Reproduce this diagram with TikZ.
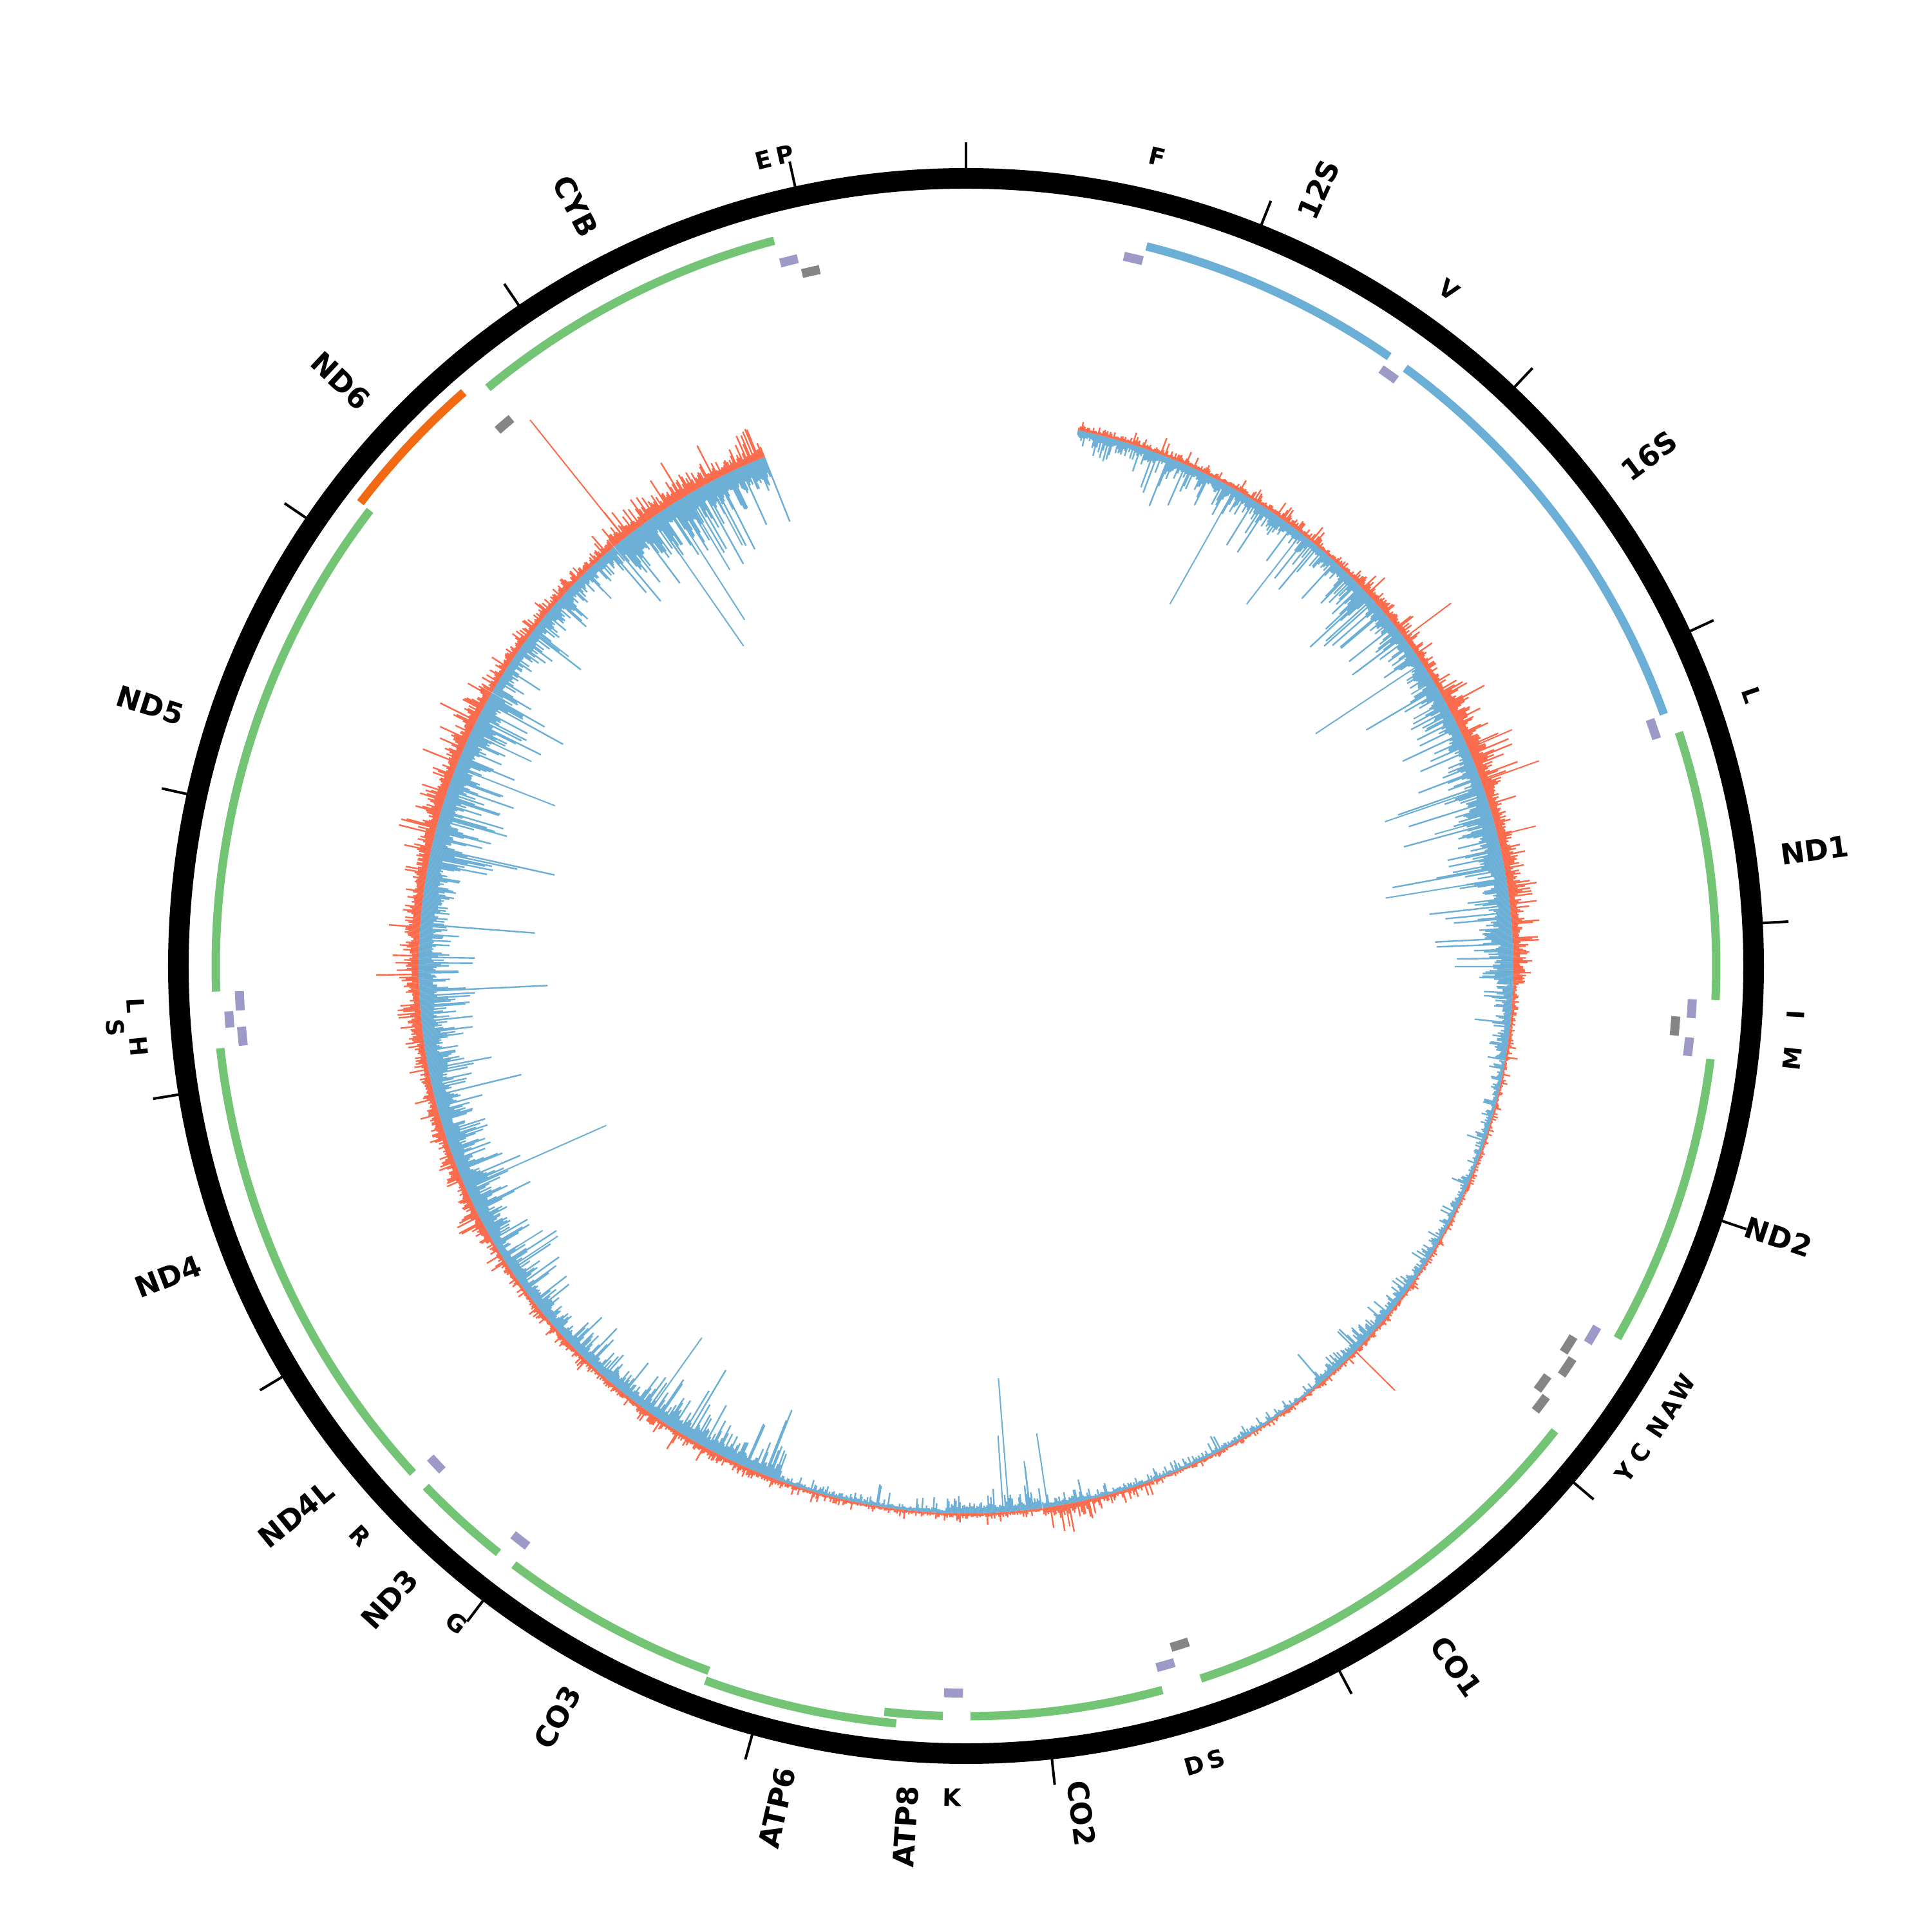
\documentclass[tikz,border=0pt]{standalone}
\usepackage{fontspec}
\setmainfont{DejaVu Sans}
\definecolor{covred}{HTML}{FB6A4A}
\definecolor{covblue}{HTML}{6BAED6}
\definecolor{cdsgreen}{HTML}{74C476}
\definecolor{rrnablue}{HTML}{6BAED6}
\definecolor{lorange}{HTML}{F16913}
\definecolor{trnapurple}{HTML}{9E9AC8}
\definecolor{trnagrey}{HTML}{858585}
\tikzset{
  gene/.style={line width=0.13cm, cdsgreen},
  rrna/.style={line width=0.13cm, rrnablue},
  lgene/.style={line width=0.13cm, lorange},
  trnah/.style={line width=0.14cm, trnapurple},
  trnal/.style={line width=0.14cm, trnagrey},
  ticmark/.style={line width=0.04cm, black},
  ringstyle/.style={line width=0.32cm, black},
  genelab/.style={font=\fontsize{12.8}{15}\selectfont\bfseries, inner sep=0pt},
  trnalab/.style={font=\fontsize{10.6}{13}\selectfont\bfseries, inner sep=0pt},
  covr/.style={covred, line width=0.024cm},
  covb/.style={covblue, line width=0.024cm},
  spiker/.style={covred, line width=0.02cm},
  spikeb/.style={covblue, line width=0.02cm},
}
% arc: style, radius, theta1, theta2 (degrees clockwise from top)
\newcommand{\featarc}[4]{\draw[#1] ({90-(#3)}:#2) arc[start angle={90-(#3)}, end angle={90-(#4)}, radius=#2];}
% gene labels (radial)
\newcommand{\genelabR}[3]{\node[genelab, anchor=west, rotate={90-(#2)}] (#1) at ({90-(#2)}:12.76) {#3};}
\newcommand{\genelabL}[3]{\node[genelab, anchor=east, rotate={270-(#2)}] (#1) at ({90-(#2)}:12.76) {#3};}
% tRNA labels (tangential)
\newcommand{\trlabT}[4]{\node[trnalab, rotate={-(#2)}] (#1) at ({90-(#2)}:#3) {#4};}
\newcommand{\trlabB}[4]{\node[trnalab, rotate={180-(#2)}] (#1) at ({90-(#2)}:#3) {#4};}
\begin{document}
\begin{tikzpicture}
\useasboundingbox (-15,-15) rectangle (15,15);
\pgfmathsetseed{11}
% ---------------- coverage track ----------------
\foreach \ta/\tb/\ar/\ab in {11.8/20/5/12, 20/45/6/16, 45/60/10/22, 60/72/18/24,
  72/92/14/30, 92/100/5/14, 100/125/3/7, 125/140/4/12, 140/160/3/5,
  160/167/6/5, 167/172/12/9, 172/182/5/12, 182/200/4/6, 200/215/7/22,
  215/240/6/18, 240/262/11/28, 262/300/15/32, 300/320/9/20, 320/338.4/15/34}{
  \pgfmathtruncatemacro\nn{round((\tb-\ta)/0.15)}
  \foreach \i in {1,...,\nn}{
    \pgfmathsetmacro\cA{90-(\ta+0.15*\i-0.075)}
    \pgfmathsetmacro\cR{8.5+\ar*(0.6-0.7*ln(0.003+0.99*rnd))/100}
    \pgfmathsetmacro\cB{8.5-\ab*(0.6+0.7*pow(-ln(0.003+0.99*rnd),1.2))/100}
    \draw[covb] (\cA:8.5) -- (\cA:\cB);
    \draw[covr] (\cA:8.5) -- (\cA:\cR);
  }
}
\foreach \a/\r in {29.4/645, 37.8/711, 53.0/751, 56.4/652, 58.6/810, 61.1/794,
  71.0/688, 74.3/756, 80.8/660, 171.4/734, 173.3/774, 175.5/642, 176.1/731,
  215.4/708, 236.5/760, 238.0/775, 246.1/611, 291.3/685, 295.2/746, 307.9/782, 316.0/793,
  325.2/605, 327.4/638, 329.2/716, 332.0/740}{
  \draw[spikeb] ({90-\a}:8.5) -- ({90-\a}:{\r/100});
}
\foreach \a/\r in {53.2/941, 66.6/924, 70.3/945, 76.2/911, 134.7/937,
  321.4/1085, 169.5/885}{
  \draw[spiker] ({90-\a}:8.5) -- ({90-\a}:{\r/100});
}
% ---------------- outer ring and ticks ----------------
\draw[ringstyle] (0,0) circle[radius=12.23];
\foreach \k in {0,...,16}{
  \draw[ticmark] ({90-\k*21.727}:12.38) -- ({90-\k*21.727}:12.79);
}
% ---------------- rRNA ----------------
\featarc{rrna}{11.52}{14.08}{34.78}
\featarc{rrna}{11.52}{36.31}{70.16}
% ---------------- protein genes (H strand) ----------------
\featarc{gene}{11.65}{71.85}{92.60}
\featarc{gene}{11.65}{97.12}{119.74}
\featarc{gene}{11.65}{128.28}{161.76}
\featarc{gene}{11.65}{164.82}{179.66}
\featarc{gene}{11.65}{181.77}{186.25}
\featarc{gene}{11.81}{185.27}{200.04}
\featarc{gene}{11.65}{200.04}{217.06}
\featarc{gene}{11.65}{218.55}{226.05}
\featarc{gene}{11.65}{227.49}{233.92}
\featarc{gene}{11.65}{233.78}{263.70}
\featarc{gene}{11.65}{268.05}{307.40}
\featarc{gene}{11.65}{320.41}{345.18}
% ---------------- ND6 (L strand) ----------------
\featarc{lgene}{11.84}{307.42}{318.80}
% ---------------- tRNA, H strand ----------------
\featarc{trnah}{11.29}{12.54}{14.06}
\featarc{trnah}{11.29}{34.81}{36.28}
\featarc{trnah}{11.29}{70.18}{71.79}
\featarc{trnah}{11.29}{92.62}{94.10}
\featarc{trnah}{11.29}{95.64}{97.10}
\featarc{trnah}{11.29}{119.76}{121.22}
\featarc{trnah}{11.29}{163.35}{164.80}
\featarc{trnah}{11.29}{180.23}{181.73}
\featarc{trnah}{11.29}{217.08}{218.53}
\featarc{trnah}{11.29}{226.07}{227.46}
\featarc{trnah}{11.29}{263.72}{265.20}
\featarc{trnah}{11.47}{265.22}{266.48}
\featarc{trnah}{11.29}{266.50}{268.02}
\featarc{trnah}{11.29}{345.20}{346.62}
% ---------------- tRNA, L strand ----------------
\featarc{trnal}{11.05}{94.06}{95.60}
\featarc{trnal}{11.05}{121.39}{122.87}
\featarc{trnal}{11.22}{122.91}{124.48}
\featarc{trnal}{11.05}{125.17}{126.58}
\featarc{trnal}{11.22}{126.58}{128.00}
\featarc{trnal}{11.05}{161.78}{163.26}
\featarc{trnal}{11.05}{318.83}{320.30}
\featarc{trnal}{11.05}{346.68}{348.14}
% ---------------- gene labels ----------------
\genelabR{l12S}{24.43}{12S}
\genelabR{l16S}{53.24}{16S}
\genelabR{lND1}{82.23}{ND1}
\genelabR{lND2}{108.43}{ND2}
\genelabR{lCO1}{145.02}{CO1}
\genelabR{lCO2}{172.24}{CO2}
\genelabL{lATP8}{184.01}{ATP8}
\genelabL{lATP6}{192.66}{ATP6}
\genelabL{lCO3}{208.55}{CO3}
\genelabL{lND3}{222.30}{ND3}
\genelabL{lND4L}{230.71}{ND4L}
\genelabL{lND4}{248.74}{ND4}
\genelabL{lND5}{287.73}{ND5}
\genelabL{lND6}{313.11}{ND6}
\genelabL{lCYB}{332.80}{CYB}
% ---------------- tRNA labels ----------------
\trlabT{tF}{13.30}{12.91}{F}
\trlabT{tV}{35.55}{12.91}{V}
\trlabT{tL1}{70.99}{12.91}{L}
\trlabB{tI}{93.36}{12.91}{I}
\trlabB{tM}{96.37}{12.91}{M}
\trlabB{tW}{120.49}{12.91}{W}
\trlabB{tA}{122.13}{12.91}{A}
\trlabB{tN}{123.70}{12.91}{N}
\trlabB{tC}{125.87}{12.91}{C}
\trlabB{tY}{127.55}{12.91}{Y}
\trlabB{tS1}{162.52}{12.91}{S}
\trlabB{tD}{164.07}{12.91}{D}
\trlabB{tK}{180.98}{12.91}{K}
\trlabB{tG}{217.80}{12.91}{G}
\trlabB{tR}{226.77}{12.91}{R}
\trlabB{tH}{264.46}{12.91}{H}
\trlabB{tS2}{265.85}{13.25}{S}
\trlabB{tL2}{267.26}{12.91}{L}
\trlabT{tE}{345.91}{12.91}{E}
\trlabT{tP}{347.41}{12.91}{P}
\end{tikzpicture}
\end{document}
